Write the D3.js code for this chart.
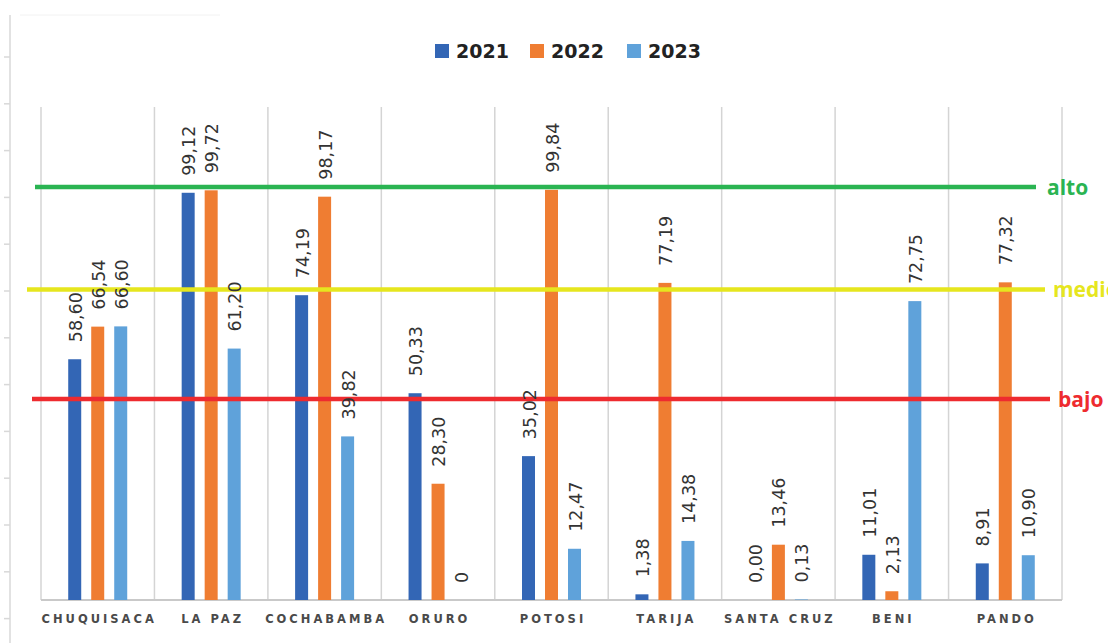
<!DOCTYPE html>
<html><head><meta charset="utf-8">
<script src="https://cdn.jsdelivr.net/npm/d3@7"></script>
<style>html,body{margin:0;padding:0;background:#fff;overflow:hidden}</style>
</head><body>
<svg id="chart" width="1108" height="643"></svg>
<script>
const categories = ["CHUQUISACA","LA PAZ","COCHABAMBA","ORURO","POTOSI","TARIJA","SANTA CRUZ","BENI","PANDO"];
const seriesNames = ["2021","2022","2023"];
const values2021 = [58.60, 99.12, 74.19, 50.33, 35.02, 1.38, 0.00, 11.01, 8.91];
const values2022 = [66.54, 99.72, 98.17, 28.30, 99.84, 77.19, 13.46, 2.13, 77.32];
const values2023 = [66.60, 61.20, 39.82, 0, 12.47, 14.38, 0.13, 72.75, 10.90];
const labelOverrides = {"ORURO|2023": "0"};
const refNames = ["alto","medio","bajo"];
const refValues = [100.5, 75.6, 48.9];

const colors = {"2021":"#3366b5","2022":"#ef7d32","2023":"#5fa2da"};
const refColors = {"alto":"#2ab452","medio":"#e6e61e","bajo":"#ee2b2f"};

const svg = d3.select("#chart");
const x0 = 41, x1 = 1062, yBase = 600;
const x = d3.scaleBand().domain(categories).range([x0, x1]).padding(0);
const y = d3.scaleLinear().domain([0, 120]).range([yBase, 107]);
const xs = d3.scalePoint().domain(seriesNames).range([-23, 23]);
const barW = 13;

const seriesData = [values2021, values2022, values2023];
const rows = [];
seriesNames.forEach((s, i) => categories.forEach((c, j) => rows.push({s, c, v: seriesData[i][j]})));

// faint left axis artifact
svg.append("line").attr("x1",10).attr("x2",10).attr("y1",15).attr("y2",643)
  .attr("stroke","#e2e2e2").attr("stroke-width",2);
svg.selectAll(".ltick").data(d3.range(57, 643, 46.8)).join("line")
  .attr("x1",4).attr("x2",10).attr("y1",d=>d).attr("y2",d=>d)
  .attr("stroke","#d8d8d8").attr("stroke-width",1.5);
svg.append("line").attr("x1",20).attr("x2",220).attr("y1",15).attr("y2",15)
  .attr("stroke","#f2f2f2").attr("stroke-width",1);

// vertical grid at category boundaries
const bounds = categories.map(c => x(c)).concat([x1]);
svg.selectAll(".vgrid").data(bounds).join("line")
  .attr("x1",d=>d).attr("x2",d=>d).attr("y1",y(120)).attr("y2",yBase)
  .attr("stroke","#d4d4d4").attr("stroke-width",1.5);

// baseline
svg.append("line").attr("x1",x0).attr("x2",x1).attr("y1",yBase).attr("y2",yBase)
  .attr("stroke","#c9c9c9").attr("stroke-width",2);

// bars
const cx = d => x(d.c) + x.bandwidth()/2 + xs(d.s);
svg.selectAll(".bar").data(rows).join("rect")
  .attr("x", d => cx(d) - barW/2)
  .attr("y", d => y(d.v))
  .attr("width", barW)
  .attr("height", d => yBase - y(d.v))
  .attr("fill", d => colors[d.s]);

// reference lines
const refX = {"alto":[35,1036,1047],"medio":[27,1045,1053],"bajo":[32,1050,1058]};
refNames.forEach((n, i) => {
  svg.append("line").attr("x1",refX[n][0]).attr("x2",refX[n][1])
    .attr("y1",y(refValues[i])).attr("y2",y(refValues[i]))
    .attr("stroke",refColors[n]).attr("stroke-width",4.5);
  svg.append("text").attr("x",refX[n][2]).attr("y",y(refValues[i]))
    .attr("dominant-baseline","central")
    .attr("font-family","'Open Sans', sans-serif").attr("font-weight",700)
    .attr("font-size",21).attr("fill",refColors[n]).text(n);
});

// data labels
const fmt = v => d3.format(".2f")(v).replace(".", ",");
svg.selectAll(".lab").data(rows).join("text")
  .attr("transform", d => `translate(${cx(d)+1},${y(d.v)-17}) rotate(-90)`)
  .attr("dominant-baseline","central")
  .attr("font-family","'DejaVu Sans', sans-serif").attr("font-size",17.5)
  .attr("fill","#333")
  .text(d => labelOverrides[d.c + "|" + d.s] || fmt(d.v));

// category labels
svg.selectAll(".cat").data(categories).join("text")
  .attr("x", d => x(d) + x.bandwidth()/2 + 1.5)
  .attr("y", 619)
  .attr("text-anchor","middle").attr("dominant-baseline","central")
  .attr("font-family","'DejaVu Sans', sans-serif").attr("font-weight",700)
  .attr("font-size",11.5).attr("letter-spacing",3).attr("fill","#4a4a4a")
  .text(d => d);

// legend
const legX = [435, 530, 627];
const leg = svg.selectAll(".leg").data(seriesNames).join("g")
  .attr("transform", (d,i) => `translate(${legX[i]},51)`);
leg.append("rect").attr("x",0).attr("y",-7).attr("width",14).attr("height",14)
  .attr("fill", d => colors[d]);
leg.append("text").attr("x",21).attr("y",0).attr("dominant-baseline","central")
  .attr("font-family","'DejaVu Sans', sans-serif").attr("font-weight",700)
  .attr("font-size",19).attr("fill","#222").text(d => d);
</script>
</body></html>
